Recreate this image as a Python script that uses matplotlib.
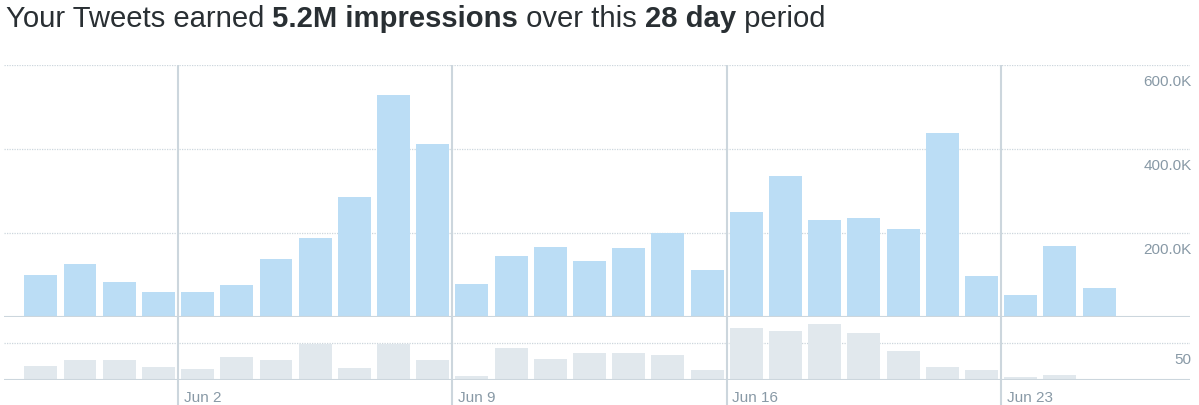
import datetime
import matplotlib
matplotlib.use('Agg')
import matplotlib.pyplot as plt

# dados (28 dias, 29 mai - 25 jun)
inicio = datetime.date(2019, 5, 29)
dias = [inicio + datetime.timedelta(days=i) for i in range(28)]
impressoes = [100, 126, 83, 60, 60, 76, 138, 188, 286, 528, 412,
              79, 145, 167, 133, 164, 200, 112, 250, 336, 231, 236,
              210, 438, 98, 52, 169, 69]  # em milhares
tweets = [19, 27.5, 27.5, 18, 15, 31.5, 27.5, 49, 16.5, 48, 27.5,
          6, 43.5, 29, 37, 37, 34, 14, 69.5, 66.5, 75, 64,
          39.5, 18, 14, 4.5, 7, 0.6]
rotulos_semana = ['Jun 2', 'Jun 9', 'Jun 16', 'Jun 23']
ticks_y = [200, 400, 600]
rotulos_y = ['200.0K', '400.0K', '600.0K']

azul = '#bbddf5'
cinza = '#e1e8ed'
linha = '#ccd6dd'
texto = '#8899a6'
plt.rcParams['font.family'] = ['Liberation Sans', 'DejaVu Sans']

W, H = 1199, 406
fig = plt.figure(figsize=(W / 100, H / 100), dpi=100)

def eixo(x0, y0, x1, y1):
    # pixels (origem no topo) -> coordenadas da figura
    return fig.add_axes([x0 / W, 1 - y1 / H, (x1 - x0) / W, (y1 - y0) / H])

xs = list(range(len(dias)))
xlim = (-0.939, 29.32)
semanas = [i - 0.5 for i, d in enumerate(dias) if d.weekday() == 6]

# fundo com as linhas verticais das semanas
fundo = eixo(4, 66, 1190, 406)
fundo.set_xlim(*xlim)
fundo.set_ylim(0, 1)
fundo.axis('off')
for s, r in zip(semanas, rotulos_semana):
    fundo.axvline(s, color=linha, lw=1.5, zorder=0)
    fundo.annotate(r, (s, 0), xytext=(4, 3), textcoords='offset points',
                   color=texto, fontsize=11, ha='left', va='baseline')

# grafico de impressoes
ax = eixo(4, 66, 1190, 318)
ax.patch.set_alpha(0)
ax.set_xlim(*xlim)
ax.set_ylim(0, 600)
ax.bar(xs, impressoes, width=0.84, color=azul, zorder=2)
for t, r in zip(ticks_y, rotulos_y):
    ax.axhline(t, color=linha, lw=0.9, ls=(0, (1, 1)), zorder=1)
    ax.annotate(r, (1.0, t), xycoords=('axes fraction', 'data'),
                xytext=(1, -14.4), textcoords='offset points',
                ha='right', va='baseline', color=texto, fontsize=11)
ax.axhline(0, color=linha, lw=1.5, zorder=3)
ax.axis('off')

# grafico de tweets
ax2 = eixo(4, 318, 1190, 381)
ax2.patch.set_alpha(0)
ax2.set_xlim(*xlim)
ax2.set_ylim(0, 85)
ax2.bar(xs, tweets, width=0.84, color=cinza, zorder=2)
ax2.axhline(50, color=linha, lw=0.9, ls=(0, (1, 1)), zorder=1)
ax2.annotate('50', (1.0, 50), xycoords=('axes fraction', 'data'),
             xytext=(1, -14.4), textcoords='offset points',
             ha='right', va='baseline', color=texto, fontsize=11)
ax2.axhline(0, color=linha, lw=1.5, zorder=3)
ax2.axis('off')

# titulo com partes em negrito
partes = [('Your Tweets earned ', 'normal'), ('5.2M impressions', 'bold'),
          (' over this ', 'normal'), ('28 day', 'bold'), (' period', 'normal')]
fig.canvas.draw()
rend = fig.canvas.get_renderer()
x = 6 / W
for p, peso in partes:
    t = fig.text(x, 1 - 27 / H, p, fontsize=21.1, fontweight=peso,
                 color='#292f33', va='baseline', ha='left')
    bb = t.get_window_extent(renderer=rend)
    x += bb.width / W

fig.savefig('out.png', dpi=100)
